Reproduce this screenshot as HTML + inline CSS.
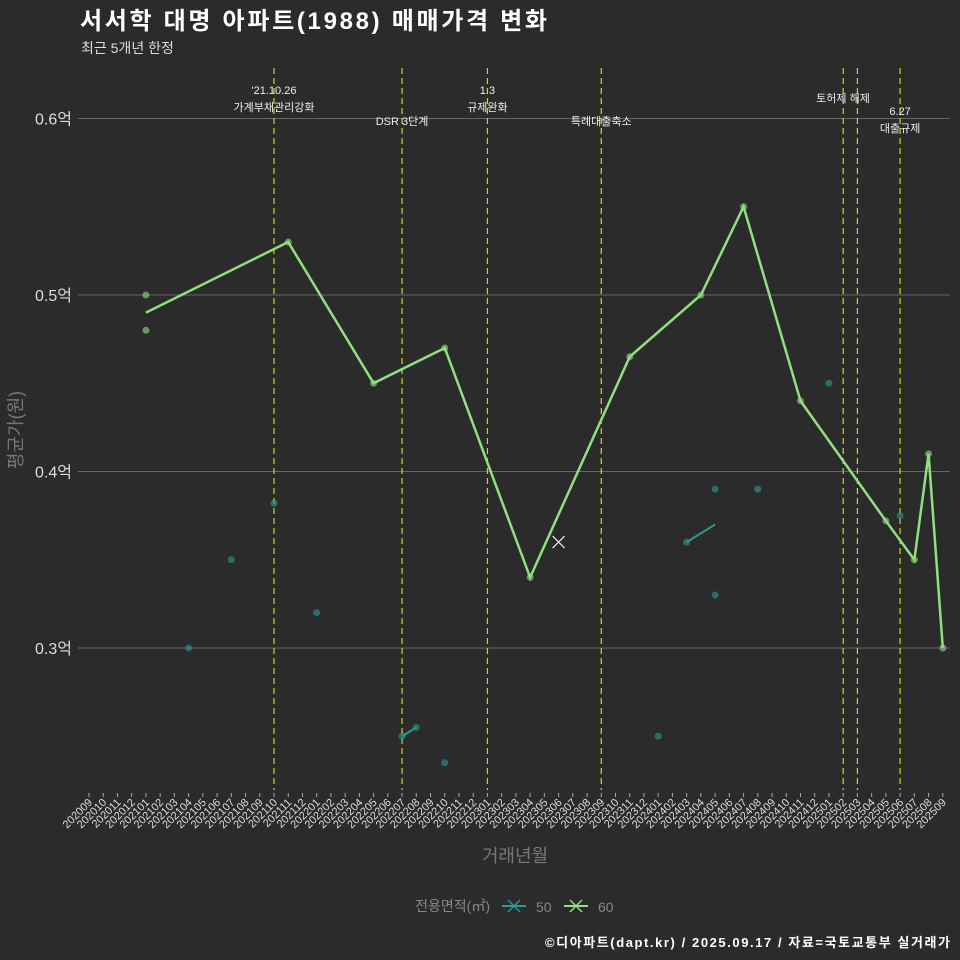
<!DOCTYPE html>
<html><head><meta charset="utf-8"><style>
body{margin:0;background:#2b2b2b;overflow:hidden;}
svg{display:block;}
svg text{font-family:"Liberation Sans","Noto Sans CJK KR",sans-serif;}
</style></head><body>
<svg id="c" width="960" height="960" xmlns="http://www.w3.org/2000/svg">
<rect width="960" height="960" fill="#2b2b2b"/>
<text x="80" y="29" font-size="24" font-weight="bold" fill="#ffffff" textLength="467">서서학 대명 아파트(1988) 매매가격 변화</text>
<text x="81" y="53" font-size="14" fill="#dddddd">최근 5개년 한정</text>
<g id="grid"></g><g id="vl"></g><g id="marks"></g><g id="xa"></g>
<text transform="translate(22,430) rotate(-90)" text-anchor="middle" font-size="18" fill="#777">평균가(원)</text>
<text x="515" y="862" text-anchor="middle" font-size="18" fill="#777">거래년월</text>
<g>
<text x="490" y="911" text-anchor="end" font-size="14" fill="#888">전용면적(㎡)</text>
<g><line x1="502" y1="906" x2="526" y2="906" stroke="#2a9a94" stroke-width="2"/><path d="M508,900l12,12M520,900l-12,12" stroke="#2a9a94" stroke-width="1.5"/><text x="536" y="912" font-size="14" fill="#888">50</text></g>
<g><line x1="564" y1="906" x2="588" y2="906" stroke="#90e080" stroke-width="2"/><path d="M570,900l12,12M582,900l-12,12" stroke="#90e080" stroke-width="1.5"/><text x="598" y="912" font-size="14" fill="#888">60</text></g>
</g>
<text x="950" y="947" text-anchor="end" font-size="13" font-weight="bold" fill="#ffffff" textLength="405">©디아파트(dapt.kr) / 2025.09.17 / 자료=국토교통부 실거래가</text>
</svg>
<script>
const yTicks=[0.3,0.4,0.5,0.6];
const months=[];for(let y=2020,m=9;y*100+m<=202509;){months.push(''+y+(m<10?'0':'')+m);m++;if(m>12){m=1;y++;}}
const line60Months=['202101','202111','202205','202210','202304','202311','202404','202407','202411','202505','202507','202508','202509'];
const line60Values=[0.49,0.53,0.45,0.47,0.34,0.465,0.50,0.55,0.44,0.372,0.35,0.41,0.30];
const pts60Months=['202101','202101','202111','202205','202210','202304','202311','202404','202407','202411','202505','202507','202508','202509'];
const pts60Values=[0.50,0.48,0.53,0.45,0.47,0.34,0.465,0.50,0.55,0.44,0.372,0.35,0.41,0.30];
const line50Segs=[[['202207',0.25],['202208',0.255]],[['202403',0.36],['202405',0.37]]];
const pts50Months=['202104','202107','202110','202201','202207','202208','202210','202401','202403','202405','202405','202408','202501','202506'];
const pts50Values=[0.30,0.35,0.382,0.32,0.25,0.255,0.235,0.25,0.36,0.39,0.33,0.39,0.45,0.375];
const crossMonths=['202306'];const crossValues=[0.36];
const events=['202110','202207','202301','202309','202502','202503','202506'];
const eventLabels=[["'21.10.26","가계부채관리강화"],["","DSR 3단계"],["1.3","규제완화"],["","특례대출축소"],["",""],["토허제 해제"],["6.27","대출규제"]];
const eventLabelY=[[94,111],[0,125],[94,111],[0,125],[0,0],[102],[115,132]];
const X=m=>89+14.23*months.indexOf(m);
const Y=v=>648-(v-0.3)*1765;
const NS='http://www.w3.org/2000/svg';
function mk(p,t,a){const e=document.createElementNS(NS,t);for(const k in a)e.setAttribute(k,a[k]);document.getElementById(p).appendChild(e);return e;}
yTicks.forEach(v=>{
 const l=mk('grid','line',{x1:78,x2:950,y1:Y(v),y2:Y(v),stroke:'#666','stroke-width':1});
 
 
 const t=mk('grid','text',{x:72,y:Y(v)+6,'text-anchor':'end','font-size':16,fill:'#ddd'});t.textContent=v.toFixed(1)+'억';
 
 
});
events.forEach((m,i)=>{
 const l=mk('vl','line',{x1:X(m),x2:X(m),y1:68,y2:790,stroke:'#d4d420','stroke-width':1.2,'stroke-dasharray':'6,4'});
 
 
 const labs=eventLabels[i];
 labs.forEach((s,j)=>{if(!s)return;let cx=X(m);if(m==='202503')cx=843;
  const t=mk('vl','text',{x:cx,y:eventLabelY[i][j],'text-anchor':'middle','font-size':11,fill:'#eee'});t.textContent=s;
  
  });
});
months.forEach(m=>{
 const tk=mk('xa','line',{x1:X(m),x2:X(m),y1:793,y2:797,stroke:'#aaa'});
 
 
 const t=mk('xa','text',{x:X(m)+4,y:803,'text-anchor':'end','font-size':11,fill:'#ddd',transform:`rotate(-45 ${X(m)+4} 803)`});t.textContent=m;
 
 
});
pts50Months.forEach((m,i)=>{const c=mk('marks','circle',{cx:X(m),cy:Y(pts50Values[i]),r:3.5,fill:'#2a9a94','fill-opacity':0.6});
 
 });
line50Segs.forEach(s=>{const p=mk('marks','polyline',{points:s.map(d=>X(d[0])+','+Y(d[1])).join(' '),fill:'none',stroke:'#2a9a94','stroke-width':2});
 
 });
pts60Months.forEach((m,i)=>{const c=mk('marks','circle',{cx:X(m),cy:Y(pts60Values[i]),r:3.5,fill:'#90e080','fill-opacity':0.6});
 
 });
const pl=mk('marks','polyline',{points:line60Months.map((m,i)=>X(m)+','+Y(line60Values[i])).join(' '),fill:'none',stroke:'#90e080','stroke-width':2.5});


crossMonths.forEach((m,i)=>{const x=X(m),y=Y(crossValues[i]);
 const p=mk('marks','path',{d:`M${x-6},${y-6}l12,12M${x+6},${y-6}l-12,12`,stroke:'#eee','stroke-width':1.2});
 
 });
</script>
</body></html>
